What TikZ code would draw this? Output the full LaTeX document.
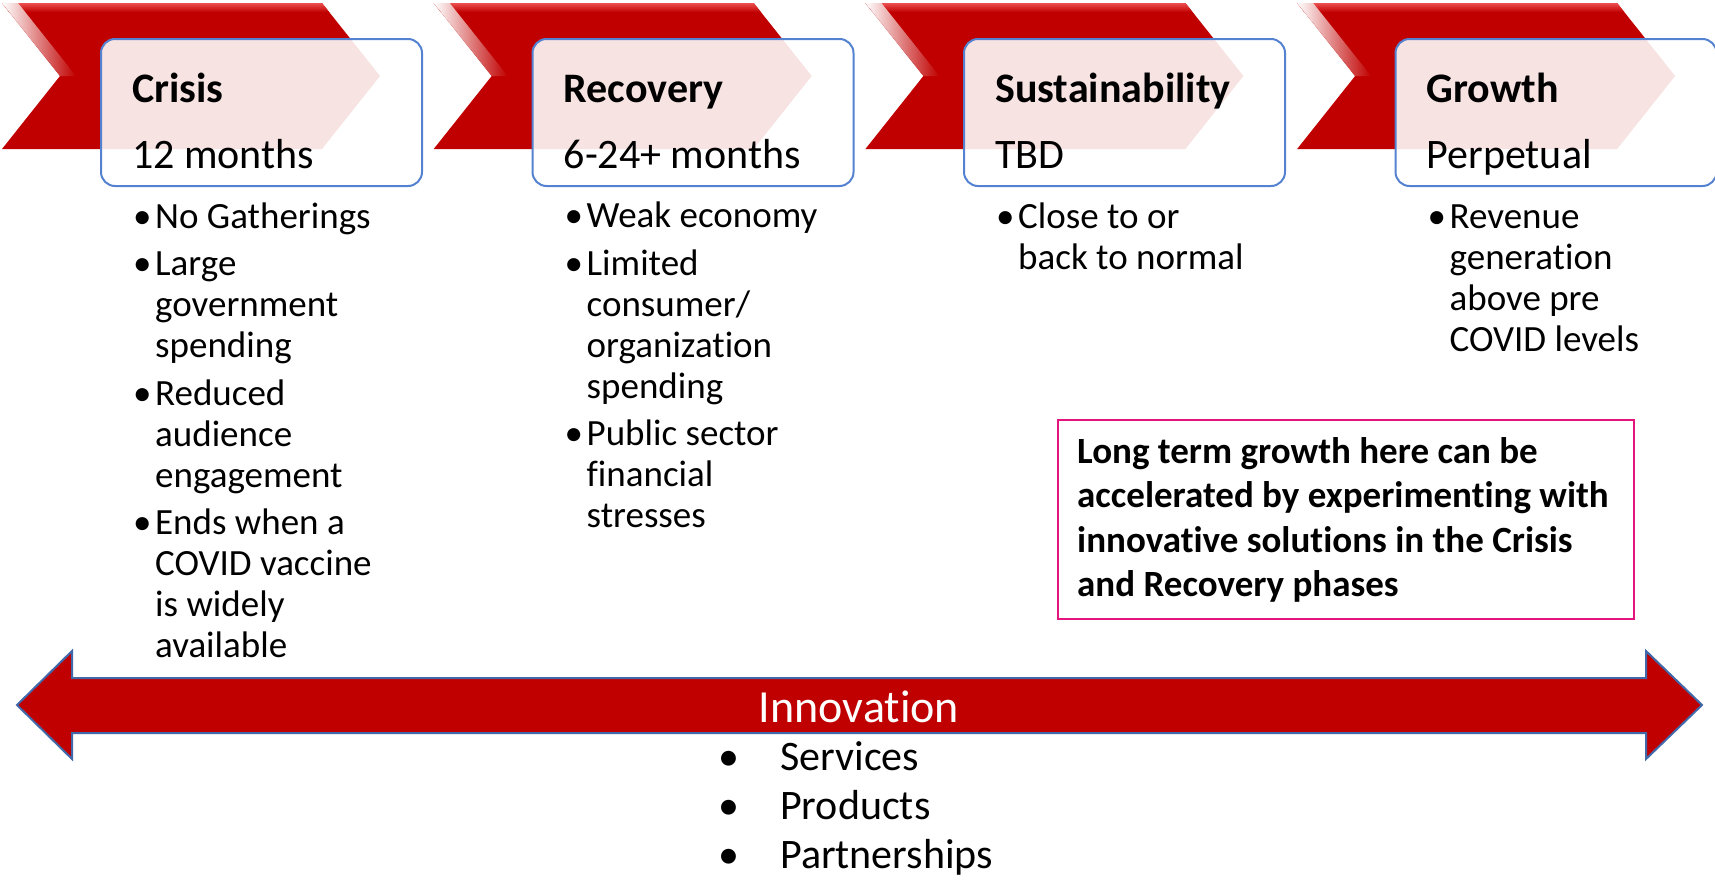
\documentclass[tikz,border=0pt]{standalone}
\usepackage{fontspec}
\setmainfont{Carlito}[RawFeature={-liga;-clig;-calt;-dlig;-rlig}]
\definecolor{chevred}{RGB}{192,0,0}
\definecolor{bevel}{RGB}{236,80,80}
\definecolor{boxblue}{RGB}{84,130,208}
\definecolor{arrowedge}{RGB}{65,105,170}
\definecolor{notepink}{RGB}{230,20,125}
\begin{document}
\begin{tikzpicture}[x=1pt,y=-1pt,
  chev/.style={fill=chevred},
  phasebox/.style={anchor=north west, draw=boxblue, line width=2pt, fill=white, fill opacity=0.89,
    rounded corners=14pt, minimum width=321pt, minimum height=147pt, inner sep=0pt},
  phasetitle/.style={anchor=base west, inner sep=0pt, font=\fontsize{42}{50}\selectfont\bfseries},
  phasespan/.style={anchor=base west, inner sep=0pt, font=\fontsize{42}{50}\selectfont},
  bullets/.style={anchor=base west, inner sep=0pt, align=left, font=\fontsize{37}{41}\selectfont},
  notetext/.style={anchor=base west, inner sep=0pt, align=left, font=\fontsize{37}{44.5}\selectfont\bfseries},
]
\useasboundingbox (0,0) rectangle (1715,881);

% phase chevrons with a bevelled top and notch edge
\foreach \i in {0,...,3}{
  \pgfmathsetmacro\L{2+431.7*\i}
  \fill[chev] (\L,3) -- ++(320,0) -- ++(58,73) -- ++(-58,73) -- ++(-320,0) -- ++(58,-73) -- cycle;
  \shade[top color=bevel, bottom color=chevred] (\L,3) -- ++(320,0) -- ++(7,9) -- ++(-320,0) -- cycle;
  \shade[left color=white, right color=chevred] (\L,3) -- ++(58,73) -- ++(16,0) -- ++(-58,-73) -- cycle;
}

% phase boxes with title and duration
\foreach \i/\t/\s in {0/Crisis/12 months, 1/Recovery/6-24+ months, 2/Sustainability/TBD, 3/Growth/Perpetual}{
  \pgfmathsetmacro\B{100+431.5*\i}
  \node[phasebox] (box\i) at (\B,38) {};
  \node[phasetitle] (title\i) at (\B+32,102) {\t};
  \node[phasespan] (span\i) at (\B+32,168) {\s};
}

% bullet lists under each phase (placed by the baseline of their last line)
\node[bullets] (list0) at (133,657.5) {%
  \makebox[22pt][l]{•}No Gatherings\\[6.5pt]
  \makebox[22pt][l]{•}Large\\ \hspace*{22pt}government\\ \hspace*{22pt}spending\\[6.5pt]
  \makebox[22pt][l]{•}Reduced\\ \hspace*{22pt}audience\\ \hspace*{22pt}engagement\\[6.5pt]
  \makebox[22pt][l]{•}Ends when a\\ \hspace*{22pt}COVID vaccine\\ \hspace*{22pt}is widely\\ \hspace*{22pt}available};
\node[bullets] (list1) at (564.5,527.5) {%
  \makebox[22pt][l]{•}Weak economy\\[6.5pt]
  \makebox[22pt][l]{•}Limited\\ \hspace*{22pt}consumer/\\ \hspace*{22pt}organization\\ \hspace*{22pt}spending\\[6.5pt]
  \makebox[22pt][l]{•}Public sector\\ \hspace*{22pt}financial\\ \hspace*{22pt}stresses};
\node[bullets] (list2) at (996,269) {%
  \makebox[22pt][l]{•}Close to or\\ \hspace*{22pt}back to normal};
\node[bullets] (list3) at (1427.5,351) {%
  \makebox[22pt][l]{•}Revenue\\ \hspace*{22pt}generation\\ \hspace*{22pt}above pre\\ \hspace*{22pt}COVID levels};

% note box
\node[anchor=north west, draw=notepink, line width=2pt, minimum width=576pt, minimum height=199pt, inner sep=0pt] (note) at (1057,419) {};
\node[notetext] (notetxt) at (1077,596.5) {Long term growth here can be\\ accelerated by experimenting with\\ innovative solutions in the Crisis\\ and Recovery phases};

% innovation double arrow
\draw[fill=chevred, draw=arrowedge, line width=2pt]
  (17,705) -- (72,651) -- (72,678) -- (1646,678) -- (1646,651) -- (1702,705)
  -- (1646,759) -- (1646,733) -- (72,733) -- (72,759) -- cycle;
\node[anchor=base, inner sep=0pt, text=white, font=\fontsize{46}{50}\selectfont] (innov) at (859,722) {Innovation};
\node[anchor=base west, inner sep=0pt, align=left, font=\fontsize{42}{49}\selectfont] (innovlist) at (718,868) {%
  \makebox[62pt][l]{•}Services\\ \makebox[62pt][l]{•}Products\\ \makebox[62pt][l]{•}Partnerships};
\end{tikzpicture}
\end{document}
